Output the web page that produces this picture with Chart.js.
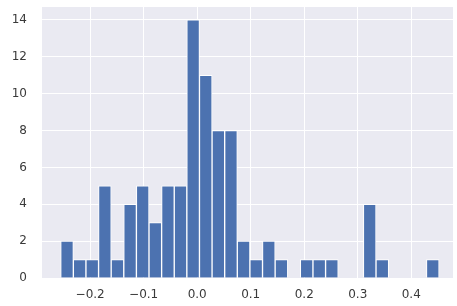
<!DOCTYPE html>
<html>
<head>
<meta charset="utf-8">
<script src="https://cdn.jsdelivr.net/npm/chart.js"></script>
<style>
  html, body { margin: 0; padding: 0; background: #fff; }
  #wrap { width: 457px; height: 306px; }
</style>
</head>
<body>
<div id="wrap"><canvas id="hist" width="457" height="306"></canvas></div>
<script>
// histogram: 30 bins between the smallest and largest sample
const binMin = -0.255;
const binMax = 0.452;
const counts = [2, 1, 1, 5, 1, 4, 5, 3, 5, 5, 14, 11, 8, 8, 2, 1, 2, 1, 0, 1, 1, 1, 0, 0, 4, 1, 0, 0, 0, 1];
const xTicks = [-0.2, -0.1, 0.0, 0.1, 0.2, 0.3, 0.4];
const yTicks = [0, 2, 4, 6, 8, 10, 12, 14];

const binW = (binMax - binMin) / counts.length;
const points = counts.map((c, i) => ({ x: binMin + binW * (i + 0.5), y: c }));

const plotBg = {
  id: 'plotBg',
  beforeDraw(chart) {
    const { ctx, chartArea: a } = chart;
    ctx.save();
    ctx.fillStyle = '#EAEAF2';
    ctx.fillRect(a.left, a.top, a.right - a.left, a.bottom - a.top);
    ctx.restore();
  }
};

const fmtMinus = v => (v < 0 ? '\u2212' : '') + Math.abs(v).toFixed(1);

new Chart(document.getElementById('hist'), {
  type: 'bar',
  data: {
    datasets: [{
      data: points,
      backgroundColor: '#4C72B0',
      borderColor: '#ffffff',
      borderWidth: 1,
      barPercentage: 1,
      categoryPercentage: 1
    }]
  },
  options: {
    responsive: false,
    animation: false,
    layout: { padding: { top: 0, right: 4, left: 0, bottom: 0 } },
    plugins: { legend: { display: false }, tooltip: { enabled: false } },
    scales: {
      x: {
        type: 'linear',
        offset: false,
        min: -0.29,
        max: 0.478,
        afterBuildTicks: s => { s.ticks = xTicks.map(v => ({ value: v })); },
        afterFit: s => { s.height = 28; s.paddingLeft = 0; s.paddingRight = 0; },
        grid: { color: '#ffffff', lineWidth: 1, drawTicks: false, offset: false },
        border: { display: false },
        ticks: {
          padding: 10,
          color: '#3a3a3a',
          font: { family: 'DejaVu Sans', size: 12 },
          callback: v => fmtMinus(v),
          maxRotation: 0
        }
      },
      y: {
        min: 0,
        max: 14.7,
        afterBuildTicks: s => { s.ticks = yTicks.map(v => ({ value: v })); },
        afterFit: s => { s.width = 42; s.paddingTop = 7; s.paddingBottom = 0; },
        grid: { color: '#ffffff', lineWidth: 1, drawTicks: false },
        border: { display: false },
        ticks: {
          padding: 15,
          color: '#3a3a3a',
          font: { family: 'DejaVu Sans', size: 12 },
          callback: v => String(v)
        }
      }
    }
  },
  plugins: [plotBg]
});
</script>
</body>
</html>
